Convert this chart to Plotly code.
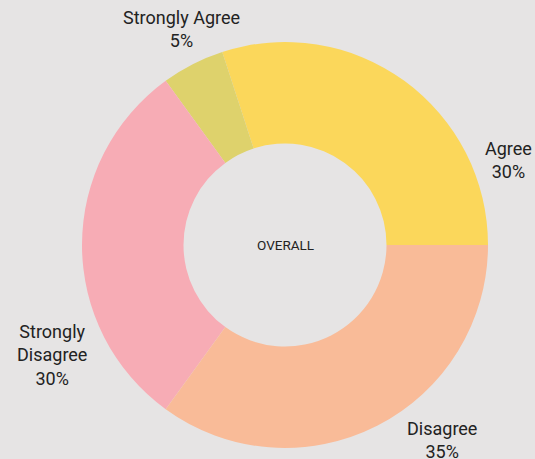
import plotly.graph_objects as go

# Survey responses, in drawing order (counter-clockwise from 3 o'clock)
categories = ["Agree", "Strongly Agree", "Strongly Disagree", "Disagree"]
shares = [30, 5, 30, 35]
label_text = ["Agree<br>30%", "Strongly Agree<br>5%", "Strongly<br>Disagree<br>30%", "Disagree<br>35%"]
slice_colors = ["#fbd75b", "#ded26c", "#f7acb5", "#f9bb98"]

# Paper positions for the outside labels (same order as categories)
label_pos = [(508, 160), (181, 29), (52, 355), (442, 440)]

W, H = 535, 459
BG = "#e6e4e4"
cx, cy, r = 285, 245, 203

fig = go.Figure(go.Pie(
    labels=categories,
    values=shares,
    sort=False,
    direction="counterclockwise",
    rotation=-18,  # first slice's far edge sits 18° left of 12 o'clock, so it starts at 3 o'clock
    hole=0.5,
    marker=dict(colors=slice_colors, line=dict(width=0)),
    textinfo="none",
    hoverinfo="label+percent",
    showlegend=False,
    domain=dict(x=[(cx - r) / W, (cx + r) / W],
                y=[(H - cy - r) / H, (H - cy + r) / H]),
))

annotations = [dict(text="OVERALL", x=cx / W, y=1 - cy / H, xref="paper", yref="paper",
                    showarrow=False, font=dict(size=13.5, color="#222222"))]
for txt, (px, py) in zip(label_text, label_pos):
    annotations.append(dict(text=txt, x=px / W, y=1 - py / H, xref="paper", yref="paper",
                            showarrow=False, align="center", xanchor="center", yanchor="middle",
                            font=dict(size=18, color="#222222")))

fig.update_layout(
    width=W, height=H,
    margin=dict(l=0, r=0, t=0, b=0),
    paper_bgcolor=BG, plot_bgcolor=BG,
    font=dict(family="Roboto, sans-serif"),
    annotations=annotations,
)

fig.write_html("out.html")
